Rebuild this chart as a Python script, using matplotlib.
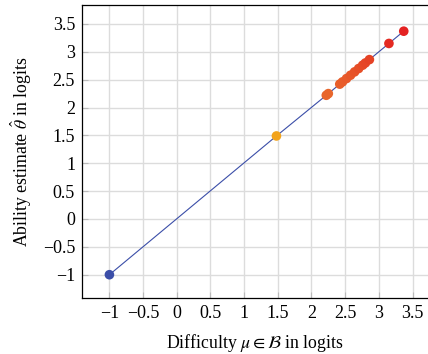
import matplotlib
matplotlib.use("Agg")
import matplotlib.pyplot as plt

plt.rcParams['font.family'] = ['Liberation Serif', 'DejaVu Serif']
plt.rcParams['mathtext.fontset'] = 'stix'

difficulty = [-1.0, 1.48, 2.22, 2.25, 2.42, 2.46, 2.52, 2.58, 2.64, 2.70, 2.76, 2.80, 2.86, 3.15, 3.37]
ability = [-1.0, 1.49, 2.22, 2.25, 2.42, 2.46, 2.52, 2.58, 2.64, 2.70, 2.76, 2.80, 2.86, 3.15, 3.37]
colors = ['#3b4ea8', '#f2a31c', '#e8662c', '#e8662c', '#e85f2a', '#e85d2a', '#e85a2a', '#e75628',
          '#e75227', '#e64e27', '#e64a26', '#e64626', '#e54225', '#e42a22', '#e42222']
xticks = [-1, -0.5, 0, 0.5, 1, 1.5, 2, 2.5, 3, 3.5]
yticks = [-1, -0.5, 0, 0.5, 1, 1.5, 2, 2.5, 3, 3.5]

fig = plt.figure(figsize=(4.28, 3.54), dpi=100)
ax = fig.add_axes([82/428, 56/354, 346/428, 293/354])

ax.plot(difficulty, ability, color='#3b4ea8', lw=0.8, zorder=2)
ax.scatter(difficulty, ability, c=colors, s=48, zorder=3, edgecolors='none')

ax.set_xlim(-1.407, 3.73)
ax.set_ylim(-1.418, 3.84)
ax.set_xticks(xticks)
ax.set_yticks(yticks)
fmt = lambda v: ('\u2212' if v < 0 else '') + (f"{abs(v):g}")
ax.set_xticklabels([fmt(v) for v in xticks])
ax.set_yticklabels([fmt(v) for v in yticks])
ax.grid(True, color='#dcdcdc', lw=1.0)
ax.set_axisbelow(True)
ax.tick_params(direction='in', length=4, color='#bbbbbb', labelsize=13, pad=5)
ax.spines['right'].set_visible(False)
for s in ['left', 'bottom', 'top']:
    ax.spines[s].set_linewidth(0.9)

ax.set_xlabel(r'Difficulty $\mu \in \mathcal{B}$ in logits', fontsize=12.8, labelpad=7)
ax.set_ylabel(r'Ability estimate $\hat{\theta}$ in logits', fontsize=12.8, labelpad=6)

fig.savefig('out.png', dpi=100)
